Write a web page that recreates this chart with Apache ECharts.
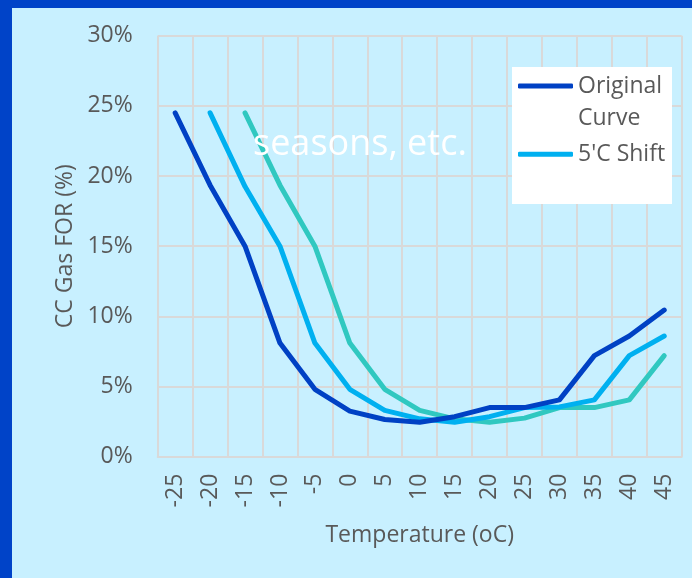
<!DOCTYPE html>
<html>
<head>
<meta charset="utf-8">
<script src="https://cdn.jsdelivr.net/npm/echarts@6/dist/echarts.min.js"></script>
<style>
html,body{margin:0;padding:0;}
#chart{width:692px;height:578px;}
</style>
</head>
<body>
<div id="chart"></div>
<script>
// ---- data ----
var categories = ['-25','-20','-15','-10','-5','0','5','10','15','20','25','30','35','40','45'];
var originalCurve = [24.5, 19.35, 15.0, 8.1, 4.8, 3.25, 2.65, 2.45, 2.85, 3.5, 3.5, 4.05, 7.2, 8.6, 10.45];
var shift5C = [null, 24.5, 19.25, 15.0, 8.1, 4.8, 3.3, 2.7, 2.45, 2.85, 3.5, 3.55, 4.05, 7.2, 8.6];
var shift10C = [null, null, 24.5, 19.35, 15.0, 8.1, 4.8, 3.3, 2.7, 2.45, 2.75, 3.5, 3.5, 4.05, 7.2];
var yTicks = [0, 5, 10, 15, 20, 25, 30];
var seriesNames = ['Original Curve', "5'C Shift", "10'C Shift"];

var FONT = '"Open Sans", sans-serif';
var TXT = '#595959';
var GRIDC = '#D9D9D9';

var chart = echarts.init(document.getElementById('chart'));
var option = {
  backgroundColor: '#0043C8',
  animation: false,
  textStyle: { fontFamily: FONT },
  graphic: [
    { type: 'rect', z: -10, shape: { x: 12, y: 8, width: 692, height: 578 }, style: { fill: '#C8F0FF' } },
    { type: 'rect', z: 1, shape: { x: 512, y: 67, width: 160, height: 137 }, style: { fill: '#FFFFFF' } },
    { type: 'text', z: 10, style: { text: 'seasons, etc.', x: 253, y: 145, verticalAlign: 'middle', fill: '#FFFFFF', font: '36px "Open Sans", sans-serif' } }
  ],
  grid: { left: 157.7, right: 10.3, top: 35.7, bottom: 121.3, containLabel: false },
  legend: [
    {
      data: [{ name: seriesNames[0], icon: 'roundRect' }],
      orient: 'vertical', left: 518, top: 37, padding: 0,
      itemWidth: 55, itemHeight: 5,
      formatter: function () { return ' \nOriginal\nCurve'; },
      textStyle: { color: TXT, fontSize: 23, fontFamily: FONT, lineHeight: 32.7 }
    },
    {
      data: [{ name: seriesNames[1], icon: 'roundRect' }],
      orient: 'vertical', left: 518, top: 138, padding: 0,
      itemWidth: 55, itemHeight: 5,
      textStyle: { color: TXT, fontSize: 23, fontFamily: FONT, lineHeight: 32.7 }
    }
  ],
  xAxis: {
    type: 'category',
    data: categories,
    boundaryGap: true,
    name: 'Temperature (oC)',
    nameLocation: 'middle',
    nameGap: 67,
    nameTextStyle: { color: TXT, fontSize: 23, fontFamily: FONT },
    axisLine: { show: true, lineStyle: { color: GRIDC, width: 2 } },
    axisTick: { show: false },
    axisLabel: { rotate: 90, margin: 17, color: TXT, fontSize: 23, fontFamily: FONT, interval: 0 },
    splitLine: { show: true, interval: 0, lineStyle: { color: GRIDC, width: 2 } }
  },
  yAxis: {
    type: 'value',
    min: yTicks[0],
    max: yTicks[yTicks.length - 1],
    interval: yTicks[1] - yTicks[0],
    name: 'CC Gas FOR (%)',
    nameLocation: 'middle',
    nameGap: 80,
    nameTextStyle: { color: TXT, fontSize: 23, fontFamily: FONT },
    axisLine: { show: false },
    axisTick: { show: false },
    axisLabel: { margin: 25, color: TXT, fontSize: 23, fontFamily: FONT, formatter: '{value}%' },
    splitLine: { show: true, lineStyle: { color: GRIDC, width: 2 } }
  },
  series: [
    { name: seriesNames[2], type: 'line', data: shift10C, showSymbol: false, symbol: 'none', color: '#30C8C0',
      lineStyle: { width: 5, cap: 'round', join: 'round' }, z: 2 },
    { name: seriesNames[1], type: 'line', data: shift5C, showSymbol: false, symbol: 'none', color: '#00B0F0',
      lineStyle: { width: 5, cap: 'round', join: 'round' }, z: 3 },
    { name: seriesNames[0], type: 'line', data: originalCurve, showSymbol: false, symbol: 'none', color: '#0041C4',
      lineStyle: { width: 5, cap: 'round', join: 'round' }, z: 4 }
  ]
};
chart.setOption(option);
</script>
</body>
</html>
